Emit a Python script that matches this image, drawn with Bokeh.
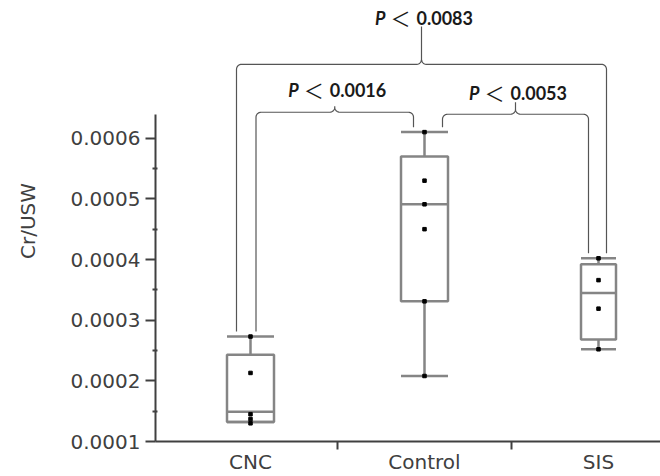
import numpy as np
from bokeh.plotting import figure
from bokeh.models import Range1d, FixedTicker, NumeralTickFormatter
from bokeh.core.properties import value
from bokeh.embed import file_html
from bokeh.resources import INLINE

# ---------------- data ----------------
groups = ["CNC", "Control", "SIS"]
whisker_low = [0.000132, 0.000208, 0.000252]
q1 = [0.000132, 0.000331, 0.000268]
median = [0.000149, 0.000491, 0.000345]
q3 = [0.000243, 0.000570, 0.000392]
whisker_high = [0.000273, 0.000610, 0.000402]
cnc_values = [0.000273, 0.000213, 0.000145, 0.000137, 0.000130]
control_values = [0.000610, 0.000530, 0.000491, 0.000450, 0.000331, 0.000208]
sis_values = [0.000402, 0.000366, 0.000319, 0.000252]
y_ticks = [0.0001, 0.0002, 0.0003, 0.0004, 0.0005, 0.0006]
p_labels = ["0.0016", "0.0053", "0.0083"]
pairs = [(0, 1), (1, 2), (0, 2)]

# ---------------- layout / style ----------------
W, H = 660, 476
BL, BB = 155, 34
frame_w, frame_h = W - BL, H - BB
SX = 174.0          # px per category
SY = 608000.0       # px per unit of Cr/USW
X0 = 2 - 269 / SX
X1 = X0 + frame_w / SX
Y0 = 0.0001
Y1 = Y0 + frame_h / SY
sx = frame_w / (X1 - X0)
sy = frame_h / (Y1 - Y0)
box_w_px = [47, 47, 35]
BOX_COL = "#858585"
AX_COL = "#404040"
TXT_COL = "#404040"

p = figure(width=W, height=H, output_backend="svg", toolbar_location=None,
           x_range=Range1d(X0, X1), y_range=Range1d(Y0, Y1),
           min_border_left=BL, min_border_right=0, min_border_top=0,
           min_border_bottom=BB)
p.outline_line_color = None
p.xgrid.grid_line_color = None
p.ygrid.grid_line_color = None
p.background_fill_color = "white"

xs = [i + 1 for i in range(len(groups))]
bw = [w / sx for w in box_w_px]

# boxes
p.vbar(x=xs, width=bw, top=q3, bottom=q1, fill_color="white",
       line_color=BOX_COL, line_width=2.5)
p.segment(x0=[x - w / 2 for x, w in zip(xs, bw)], x1=[x + w / 2 for x, w in zip(xs, bw)],
          y0=median, y1=median, line_color=BOX_COL, line_width=2.5)
# whiskers
p.segment(x0=xs, x1=xs, y0=q3, y1=whisker_high, line_color=BOX_COL, line_width=2.5)
p.segment(x0=xs, x1=xs, y0=whisker_low, y1=q1, line_color=BOX_COL, line_width=2.5)
# caps
for y in (whisker_high, whisker_low):
    p.segment(x0=[x - w / 2 for x, w in zip(xs, bw)], x1=[x + w / 2 for x, w in zip(xs, bw)],
              y0=y, y1=y, line_color=BOX_COL, line_width=2.5)

# points
for i, vals in enumerate([cnc_values, control_values, sis_values]):
    p.scatter(x=[xs[i]] * len(vals), y=vals, marker="square", size=3.5,
              color="black", line_color="black")

# ---------------- significance braces ----------------
leg_off_px = [(5.5, -11), (18, -10), (-14, 8)]
level_px_above = [330, 328, 378]       # pixel height of brace above axis
cusp_px = [6, 12, 38]
text_gap_px = [16, 9, 8]
R = 5.0


def arc(cx, cy, a0, a1, n=10):
    t = np.linspace(a0, a1, n)
    return list(cx + R * np.cos(t) / sx), list(cy + R * np.sin(t) / sy)


for k, ((a, b), lab) in enumerate(zip(pairs, p_labels)):
    xl = xs[a] + leg_off_px[k][0] / sx
    xr = xs[b] + leg_off_px[k][1] / sx
    ybl = whisker_high[a] + 5 / sy
    ybr = whisker_high[b] + 5 / sy
    yt = Y0 + level_px_above[k] / sy
    xc = (xl + xr) / 2
    rx, ry = R / sx, R / sy
    hc = cusp_px[k]
    px_, py_ = [xl, xl], [ybl, yt - ry]
    ax, ay = arc(xl + rx, yt - ry, np.pi, np.pi / 2); px_ += ax; py_ += ay
    ax, ay = arc(xc - rx, yt + ry, -np.pi / 2, 0); px_ += ax; py_ += ay
    px_ += [xc, xc]; py_ += [yt + hc / sy, yt + ry]
    ax, ay = arc(xc + rx, yt + ry, np.pi, 1.5 * np.pi); px_ += ax; py_ += ay
    ax, ay = arc(xr - rx, yt - ry, np.pi / 2, 0); px_ += ax; py_ += ay
    px_ += [xr]; py_ += [ybr]
    p.line(px_, py_, line_color="#555555", line_width=1.2)

    ytxt = yt + hc / sy
    yoff = -text_gap_px[k]
    p.text(x=[xc], y=[ytxt], text=["P"], text_align="right", text_baseline="alphabetic",
           x_offset=-36, y_offset=yoff, text_font=value("Lato"), text_font_style="bold italic",
           text_font_size="18px", text_color="#1a1a1a")
    p.text(x=[xc], y=[ytxt], text=["＜"], text_align="center", text_baseline="alphabetic",
           x_offset=-21, y_offset=yoff, text_font=value("Noto Sans CJK JP"),
           text_font_size="20px", text_color="#1a1a1a")
    p.text(x=[xc], y=[ytxt], text=[lab], text_align="left", text_baseline="alphabetic",
           x_offset=-5, y_offset=yoff, text_font=value("Lato"), text_font_style="bold",
           text_font_size="18px", text_color="#1a1a1a")

# ---------------- axes ----------------
yax = p.yaxis[0]
yax.ticker = FixedTicker(ticks=y_ticks,
                         minor_ticks=[(a + b) / 2 for a, b in zip(y_ticks[:-1], y_ticks[1:])])
yax.formatter = NumeralTickFormatter(format="0.0000")
yax.bounds = (Y0, Y0 + 328 / sy)
yax.axis_label = "Cr/USW"
yax.axis_label_standoff = 28
yax.axis_label_text_font = "DejaVu Sans"
yax.axis_label_text_font_style = "normal"
yax.axis_label_text_font_size = "20px"
yax.axis_label_text_color = TXT_COL
yax.major_label_text_font = "DejaVu Sans"
yax.major_label_text_font_size = "20px"
yax.major_label_text_color = TXT_COL
yax.major_label_standoff = 5
yax.axis_line_color = AX_COL
yax.axis_line_width = 2
yax.major_tick_line_color = AX_COL
yax.major_tick_line_width = 2
yax.major_tick_out = 10
yax.major_tick_in = 0
yax.minor_tick_line_color = AX_COL
yax.minor_tick_line_width = 2
yax.minor_tick_out = 3
yax.minor_tick_in = 2

xax = p.xaxis[0]
xax.ticker = FixedTicker(ticks=xs, minor_ticks=[x + 0.5 for x in xs[:-1]])
xax.major_label_overrides = {x: g for x, g in zip(xs, groups)}
xax.major_label_text_font = "DejaVu Sans"
xax.major_label_text_font_size = "20px"
xax.major_label_text_color = TXT_COL
xax.major_label_standoff = 0
xax.axis_line_color = AX_COL
xax.axis_line_width = 2
xax.major_tick_line_color = None
xax.major_tick_out = 0
xax.major_tick_in = 0
xax.minor_tick_line_color = AX_COL
xax.minor_tick_line_width = 2
xax.minor_tick_out = 8
xax.minor_tick_in = 0

open("out.html", "w").write(file_html(p, INLINE))
